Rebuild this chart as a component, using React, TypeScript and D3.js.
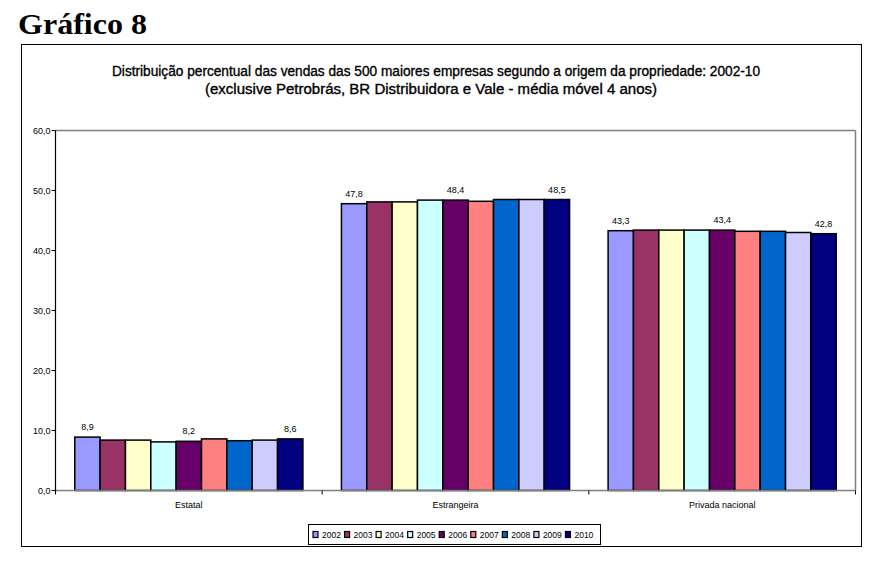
import React from "react";
import * as d3 from "d3";

const categories = ["Estatal", "Estrangeira", "Privada nacional"];
const years = ["2002", "2003", "2004", "2005", "2006", "2007", "2008", "2009", "2010"];
const estatal = [8.9, 8.4, 8.4, 8.1, 8.2, 8.6, 8.3, 8.4, 8.6];
const estrangeira = [47.8, 48.1, 48.1, 48.4, 48.4, 48.2, 48.5, 48.5, 48.5];
const privada = [43.3, 43.4, 43.4, 43.4, 43.4, 43.2, 43.2, 43.0, 42.8];
const seriesByCategory = [estatal, estrangeira, privada];
const labelledYears = ["2002", "2006", "2010"];
const yTicks = [0, 10, 20, 30, 40, 50, 60];
const colors = ["#9999FF", "#993366", "#FFFFCC", "#CCFFFF", "#660066", "#FF8080", "#0066CC", "#CCCCFF", "#000080"];

const fmt = (v: number) => v.toFixed(1).replace(".", ",");

export default function App() {
  const W = 882, H = 561;
  const plot = { left: 55.5, right: 855.5, top: 130.5, bottom: 490.5 };
  const x0 = d3.scaleBand<string>().domain(categories).range([plot.left, plot.right]).padding(0);
  const x1 = d3.scaleBand<string>().domain(years).range([0, x0.bandwidth()]).paddingInner(0).paddingOuter(0.76);
  const y = d3.scaleLinear().domain([0, 60]).range([plot.bottom, plot.top]);
  const small = "'Liberation Sans', Arial, sans-serif";
  const narrow = "'Liberation Sans Narrow', 'Arial Narrow', 'Liberation Sans', Arial, sans-serif";

  const legendX = 308, legendY = 524, legendW = 292, legendH = 20;
  const itemStep = (legendW - 8) / years.length;

  return (
    <svg width={W} height={H} style={{ position: "absolute", left: 0, top: 0, background: "#fff" }}>
      <rect x={0} y={0} width={W} height={H} fill="#fff" />
      <text x={18} y={34} fontFamily="'Liberation Serif', 'Times New Roman', serif" fontWeight="bold" fontSize={30} textLength={129} lengthAdjust="spacingAndGlyphs">Gráfico 8</text>
      <rect x={21.5} y={44.5} width={840} height={502} fill="#fff" stroke="#000" strokeWidth={1} />
      <g stroke="#000" strokeWidth={0.35}>
        <text x={436} y={76} textAnchor="middle" fontFamily={narrow} fontSize={14} textLength={648} lengthAdjust="spacingAndGlyphs">
          Distribuição percentual das vendas das 500 maiores empresas segundo a origem da propriedade: 2002-10
        </text>
        <text x={431} y={94} textAnchor="middle" fontFamily={narrow} fontSize={14} textLength={452} lengthAdjust="spacingAndGlyphs">
          (exclusive Petrobrás, BR Distribuidora e Vale - média móvel 4 anos)
        </text>
      </g>
      {/* plot area border */}
      <line x1={plot.left} y1={plot.top} x2={plot.right} y2={plot.top} stroke="#808080" strokeWidth={1.5} />
      <line x1={plot.right} y1={plot.top} x2={plot.right} y2={plot.bottom} stroke="#808080" strokeWidth={1.5} />
      {/* bars */}
      {categories.map((c, ci) => (
        <g key={c} transform={`translate(${x0(c)},0)`}>
          {years.map((yr, i) => {
            const v = seriesByCategory[ci][i];
            const bx = x1(yr)!;
            return (
              <g key={yr}>
                <rect x={bx} y={y(v)} width={x1.bandwidth()} height={plot.bottom - y(v)} fill={colors[i]} stroke="#000" strokeWidth={1.5} />
                {labelledYears.includes(yr) && (
                  <text x={bx + x1.bandwidth() / 2} y={y(v) - 7} textAnchor="middle" fontFamily={small} fontSize={9}>{fmt(v)}</text>
                )}
              </g>
            );
          })}
        </g>
      ))}
      {/* x axis */}
      <line x1={plot.left} y1={plot.bottom} x2={plot.right} y2={plot.bottom} stroke="#808080" strokeWidth={1.5} />
      {[plot.left, ...categories.map((c) => x0(c)! + x0.bandwidth())].map((xx, i) => (
        <line key={i} x1={xx} y1={plot.bottom} x2={xx} y2={plot.bottom + 4} stroke="#000" strokeWidth={1} />
      ))}
      {categories.map((c) => (
        <text key={c} x={x0(c)! + x0.bandwidth() / 2} y={508} textAnchor="middle" fontFamily={small} fontSize={9}>{c}</text>
      ))}
      {/* y axis */}
      <line x1={plot.left} y1={plot.top} x2={plot.left} y2={plot.bottom + 2} stroke="#000" strokeWidth={1.2} />
      {yTicks.map((t) => (
        <g key={t}>
          <line x1={plot.left - 4} y1={y(t)} x2={plot.left} y2={y(t)} stroke="#000" strokeWidth={1} />
          <text x={plot.left - 5} y={y(t) + 3} textAnchor="end" fontFamily={small} fontSize={9}>{fmt(t)}</text>
        </g>
      ))}
      {/* legend */}
      <rect x={legendX + 0.5} y={legendY + 0.5} width={legendW} height={legendH} fill="#fff" stroke="#000" strokeWidth={1} />
      {years.map((yr, i) => {
        const lx = legendX + 5 + i * itemStep;
        return (
          <g key={yr}>
            <rect x={lx} y={legendY + 7.5} width={5} height={6} fill={colors[i]} stroke="#000" strokeWidth={1.2} />
            <text x={lx + 9} y={legendY + 13.5} fontFamily={small} fontSize={8.5}>{yr}</text>
          </g>
        );
      })}
    </svg>
  );
}
